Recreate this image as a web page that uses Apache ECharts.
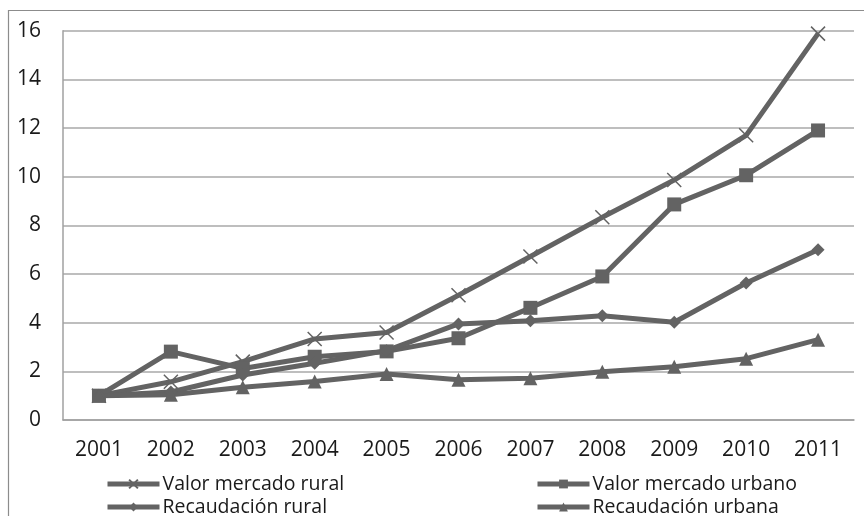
<!DOCTYPE html>
<html>
<head>
<meta charset="utf-8">
<script src="https://cdn.jsdelivr.net/npm/echarts@6/dist/echarts.min.js"></script>
<style>html,body{margin:0;padding:0;background:#fff;}#c{width:864px;height:516px;}</style>
</head>
<body>
<div id="c"></div>
<script>
const years = ['2001','2002','2003','2004','2005','2006','2007','2008','2009','2010','2011'];
const valorRural = [1, 1.57, 2.4, 3.33, 3.6, 5.13, 6.72, 8.33, 9.86, 11.7, 15.88];
const valorUrbano = [1, 2.81, 2.12, 2.6, 2.82, 3.36, 4.61, 5.9, 8.86, 10.06, 11.9];
const recaudRural = [1, 1.15, 1.85, 2.33, 2.85, 3.95, 4.08, 4.28, 4.02, 5.63, 7.0];
const recaudUrbana = [1, 1.04, 1.35, 1.58, 1.89, 1.65, 1.72, 1.98, 2.19, 2.52, 3.3];
const seriesNames = ['Valor mercado rural','Valor mercado urbano','Recaudación rural','Recaudación urbana'];
const yTicks = {min:0, max:16, interval:2};

const C = '#636363';
const font = 'Open Sans';
const chart = echarts.init(document.getElementById('c'));
function mk(name, data, symbol, size, extra){
  return Object.assign({
    name, type:'line', data, symbol, symbolSize:size, showAllSymbol:true,
    lineStyle:{color:C, width:5},
    itemStyle:{color:C},
    emphasis:{disabled:true},
    animation:false, z: 2
  }, extra||{});
}
function leg(name, left, top){
  return {data:[name], left, top, itemWidth:52, itemHeight:11, itemGap:4,
    lineStyle:{width:5, color:C},
    textStyle:{fontFamily:font, fontSize:19.5, color:'#1a1a1a', padding:[0,0,0,-2]}, padding:0};
}
chart.setOption({
  animation:false,
  backgroundColor:'#fff',
  grid:{left:63, right:10, top:30.7, bottom:96, containLabel:false},
  xAxis:{type:'category', data:years, boundaryGap:true,
    axisLine:{lineStyle:{color:'#a0a0a0', width:1.5}}, axisTick:{show:false},
    axisLabel:{fontFamily:font, fontSize:21, color:'#1a1a1a', margin:20}},
  yAxis:{type:'value', min:yTicks.min, max:yTicks.max, interval:yTicks.interval,
    axisLine:{show:true, lineStyle:{color:'#a0a0a0', width:1.5}}, axisTick:{show:false},
    splitLine:{lineStyle:{color:'#a8a8a8', width:1.5}},
    axisLabel:{fontFamily:font, fontSize:21, color:'#1a1a1a', margin:22}},
  legend:[leg(seriesNames[0],105,474), leg(seriesNames[1],535,474), leg(seriesNames[2],105,497), leg(seriesNames[3],535,497)],
  graphic:[{type:'rect', shape:{x:8.5,y:10.5,width:1000,height:1000}, style:{fill:'none', stroke:'#8c8c8c', lineWidth:1.2}, silent:true}],
  series:[
    mk(seriesNames[0], valorRural, 'path://M0,0L10,10M10,0L0,10', 14, {itemStyle:{color:C, borderColor:C, borderWidth:1.5}}),
    mk(seriesNames[1], valorUrbano, 'rect', 14),
    mk(seriesNames[2], recaudRural, 'diamond', 13),
    mk(seriesNames[3], recaudUrbana, 'triangle', 14)
  ]
});
</script>
</body>
</html>
